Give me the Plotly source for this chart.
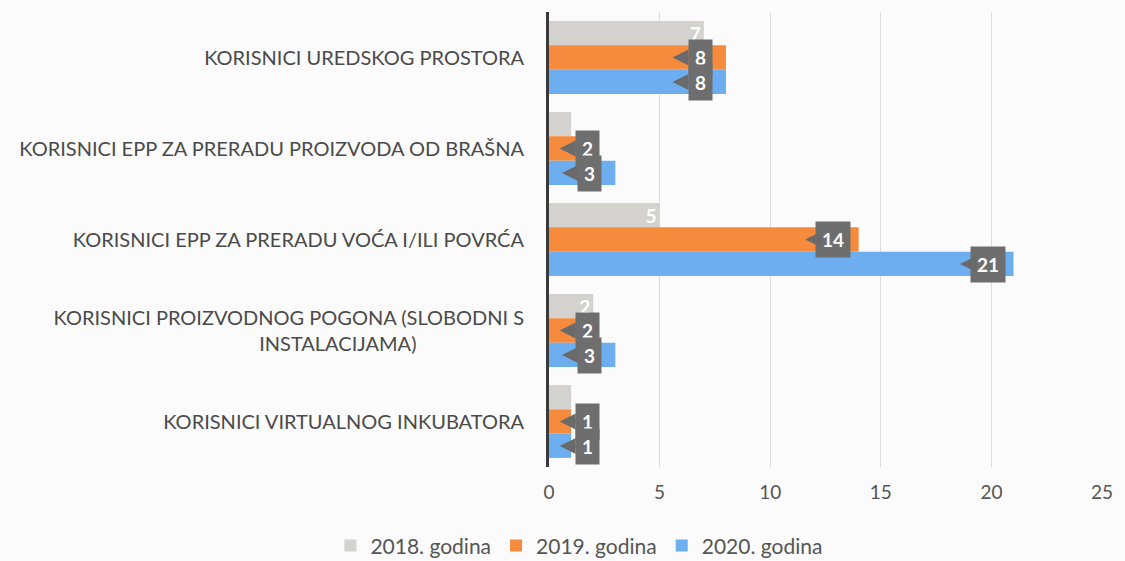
import plotly.graph_objects as go

categories = [
    "KORISNICI UREDSKOG PROSTORA",
    "KORISNICI EPP ZA PRERADU PROIZVODA OD BRAŠNA",
    "KORISNICI EPP ZA PRERADU VOĆA I/ILI POVRĆA",
    "KORISNICI PROIZVODNOG POGONA (SLOBODNI S<br>INSTALACIJAMA)",
    "KORISNICI VIRTUALNOG INKUBATORA",
]
series_names = ["2018. godina", "2019. godina", "2020. godina"]
v2018 = [7, 1, 5, 2, 1]
v2019 = [8, 2, 14, 2, 1]
v2020 = [8, 3, 21, 3, 1]
x_ticks = [0, 5, 10, 15, 20, 25]

colors = ["#d3d2cf", "#f78b3d", "#6caef0"]
FONT = "Lato"

# second line of the wrapped label sits roughly centred, as in the source
tick_text = [c.replace("<br>INSTALACIJAMA)", "<br>INSTALACIJAMA)" + "\u00a0" * 21) for c in categories]

fig = go.Figure()
for name, vals, col in zip(series_names, [v2018, v2019, v2020], colors):
    if name.startswith("2018"):
        txt = ["<b>%d</b>" % v if v > 1 else "" for v in vals]
        fig.add_trace(go.Bar(
            y=categories, x=vals, name=name, orientation="h",
            marker=dict(color=col, line=dict(width=0)),
            text=txt, textposition="inside", insidetextanchor="end", textangle=0,
            constraintext="none",
            textfont=dict(color="white", size=19, family=FONT),
            hoverinfo="skip",
        ))
    else:
        fig.add_trace(go.Bar(
            y=categories, x=vals, name=name, orientation="h",
            marker=dict(color=col, line=dict(width=0)),
            hoverinfo="skip",
        ))

# callout labels for 2019 and 2020
annotations = []
for vals, yshift in [(v2019, 0), (v2020, -24.5)]:
    for cat, v in zip(categories, vals):
        cx = max(v - 1.15, 1.75)
        annotations.append(dict(
            x=cx, y=cat, xref="x", yref="y",
            text="<b>%d</b>" % v,
            showarrow=True, ax=28, ay=0, xshift=-28, yshift=yshift,
            arrowhead=2, arrowsize=0.8, arrowwidth=4, arrowcolor="#6a6a6a",
            bgcolor="#6e6e6e", borderpad=6,
            font=dict(color="white", size=19, family=FONT),
        ))

fig.update_layout(
    width=1125, height=561,
    margin=dict(l=549, r=16, t=12, b=94),
    paper_bgcolor="#fbfbfb", plot_bgcolor="#fbfbfb",
    barmode="group", bargap=0.2, bargroupgap=0,
    font=dict(family=FONT, color="#444444"),
    showlegend=True,
    legend=dict(orientation="h", xref="container", yref="container",
                x=0.515, y=0.027, xanchor="center", yanchor="middle",
                font=dict(size=21, color="#555555"), traceorder="normal",
                itemwidth=30),
    annotations=annotations,
    xaxis=dict(range=[0, 25], tickvals=x_ticks, ticktext=[str(t) for t in x_ticks],
               showgrid=True, gridcolor="#dcdcdc", gridwidth=1, zeroline=False,
               tickfont=dict(size=19, color="#555555"), ticks="",
               ticklabelstandoff=12, fixedrange=True),
    yaxis=dict(autorange="reversed", showline=True, linecolor="#3a3a3a", linewidth=3,
               tickmode="array", tickvals=categories, ticktext=tick_text,
               tickfont=dict(size=20, color="#4a4a4a"), ticks="",
               ticklabelstandoff=18, showgrid=False),
)

fig.write_html("out.html", config={"displayModeBar": False},
               post_script="document.body.style.margin='0';document.body.style.overflow='hidden';")
